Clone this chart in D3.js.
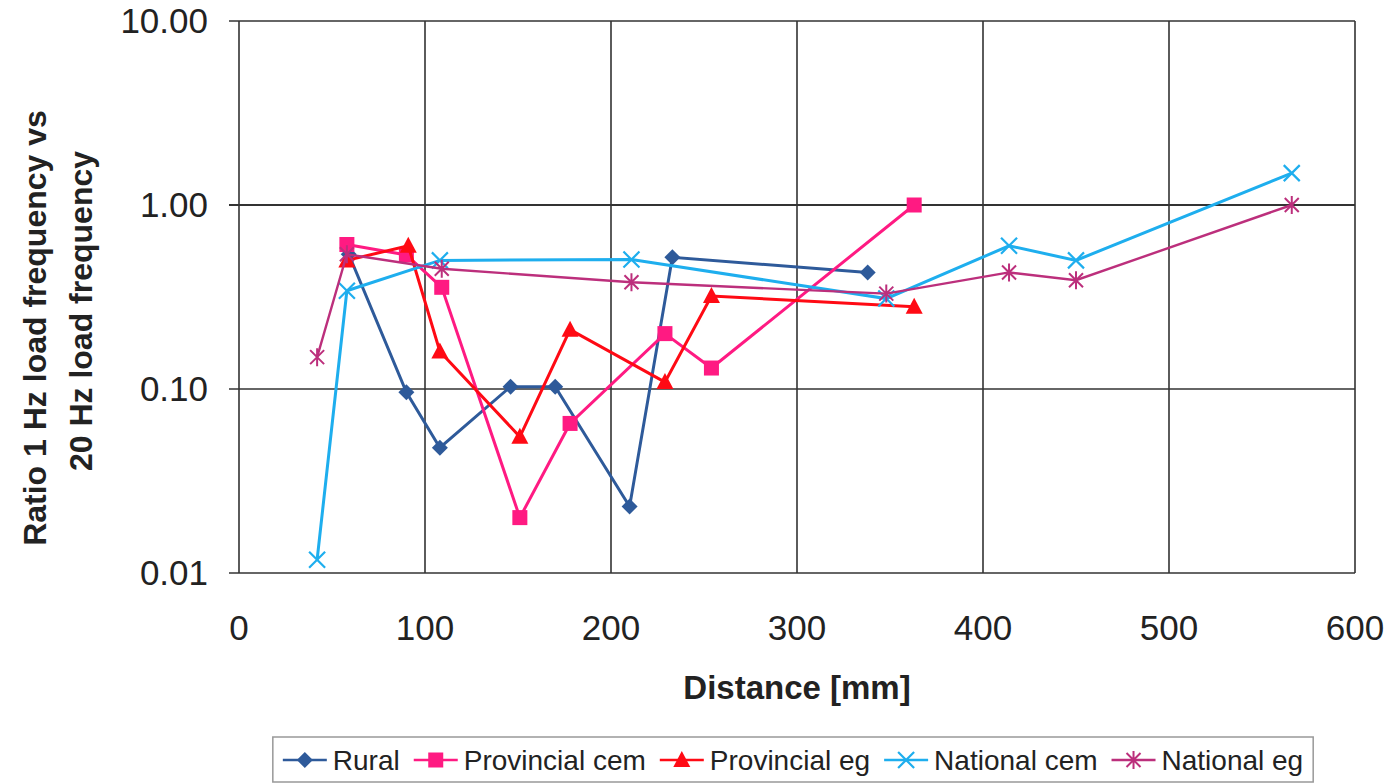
<!DOCTYPE html>
<html>
<head>
<meta charset="utf-8">
<script src="https://cdn.jsdelivr.net/npm/d3@7"></script>
<style>
  body { margin: 0; background: #fff; }
  text { font-family: "Liberation Sans", Arial, sans-serif; fill: #222; }
</style>
</head>
<body>
<script>
// tick labels
var xTicks = [0, 100, 200, 300, 400, 500, 600]
var yTicks = [0.01, 0.1, 1, 10]

// series
var seriesNames = ["Rural", "Provincial cem", "Provincial eg", "National cem", "National eg"]
var seriesColors = ["#2E5A9A", "#FF1A82", "#FF0A14", "#1EAEEE", "#BC2F7C"]
var seriesShapes = ["diamond", "square", "triangle", "cross", "asterisk"]

var ruralX = [59, 90, 108, 146, 170, 210, 233, 338]
var ruralY = [0.54, 0.096, 0.048, 0.103, 0.103, 0.023, 0.52, 0.43]

var provCemX = [58, 90, 109, 151, 178, 229, 254, 363]
var provCemY = [0.61, 0.535, 0.357, 0.020, 0.065, 0.20, 0.13, 1.00]

var provEgX = [58, 91, 108, 151, 178, 229, 254, 363]
var provEgY = [0.50, 0.60, 0.16, 0.055, 0.21, 0.109, 0.32, 0.28]

var natCemX = [42, 58, 108, 211, 348, 414, 450, 566]
var natCemY = [0.0118, 0.342, 0.50, 0.505, 0.31, 0.60, 0.50, 1.49]

var natEgX = [42, 58, 109, 211, 348, 414, 450, 566]
var natEgY = [0.149, 0.54, 0.45, 0.38, 0.33, 0.43, 0.39, 1.00]

var allX = [ruralX, provCemX, provEgX, natCemX, natEgX]
var allY = [ruralY, provCemY, provEgY, natCemY, natEgY]

var width = 1396
var height = 784
var pLeft = 239, pRight = 1355, pTop = 21, pBottom = 573

var xScale = d3.scaleLinear().domain([0, 600]).range([pLeft, pRight])
var yScale = d3.scaleLog().domain([0.01, 10]).range([pBottom, pTop])

var svg = d3.select("body")
            .append("svg")
            .attr("width", width)
            .attr("height", height)

// grid
svg.selectAll(".vgrid")
   .data(xTicks)
   .enter()
   .append("line")
   .attr("x1", function(d) { return xScale(d) })
   .attr("x2", function(d) { return xScale(d) })
   .attr("y1", pTop)
   .attr("y2", pBottom)
   .attr("stroke", "#333")
   .attr("stroke-width", 1.6)

svg.selectAll(".hgrid")
   .data(yTicks)
   .enter()
   .append("line")
   .attr("x1", pLeft - 10)
   .attr("x2", pRight)
   .attr("y1", function(d) { return yScale(d) })
   .attr("y2", function(d) { return yScale(d) })
   .attr("stroke", "#333")
   .attr("stroke-width", function(d) { return d == 1 ? 2.2 : 1.6 })

// axis labels
svg.selectAll(".ylab")
   .data(yTicks)
   .enter()
   .append("text")
   .attr("x", 208)
   .attr("y", function(d) { return yScale(d) + 12 })
   .attr("text-anchor", "end")
   .attr("font-size", 35)
   .text(function(d) { return d3.format(".2f")(d) })

svg.selectAll(".xlab")
   .data(xTicks)
   .enter()
   .append("text")
   .attr("x", function(d) { return xScale(d) })
   .attr("y", 640)
   .attr("text-anchor", "middle")
   .attr("font-size", 35)
   .text(function(d) { return d })

svg.append("text")
   .attr("x", 797)
   .attr("y", 699)
   .attr("text-anchor", "middle")
   .attr("font-size", 33)
   .attr("font-weight", "bold")
   .text("Distance [mm]")

svg.append("text")
   .attr("transform", "translate(46,328) rotate(-90)")
   .attr("text-anchor", "middle")
   .attr("font-size", 32)
   .attr("font-weight", "bold")
   .text("Ratio 1 Hz load frequency vs")

svg.append("text")
   .attr("transform", "translate(92,311) rotate(-90)")
   .attr("text-anchor", "middle")
   .attr("font-size", 32)
   .attr("font-weight", "bold")
   .text("20 Hz load frequency")

// markers
var drawMarker = function(g, shape, color) {
  if (shape == "diamond") {
    g.append("path").attr("d", "M0,-8L8,0L0,8L-8,0Z").attr("fill", color)
  } else if (shape == "square") {
    g.append("rect").attr("x", -7.5).attr("y", -7.5).attr("width", 15).attr("height", 15).attr("fill", color)
  } else if (shape == "triangle") {
    g.append("path").attr("d", "M0,-9L8.5,7L-8.5,7Z").attr("fill", color)
  } else if (shape == "cross") {
    g.append("path").attr("d", "M-8,-8L8,8M-8,8L8,-8").attr("stroke", color).attr("stroke-width", 2.2)
  } else {
    g.append("path").attr("d", "M-7,-7L7,7M-7,7L7,-7M0,-9L0,9").attr("stroke", color).attr("stroke-width", 2)
  }
}

var line = d3.line()
  .x(function(d) { return xScale(d[0]) })
  .y(function(d) { return yScale(d[1]) })

seriesNames.forEach(function(name, i) {
  var pts = d3.zip(allX[i], allY[i])
  svg.append("path")
     .datum(pts)
     .attr("d", line)
     .attr("fill", "none")
     .attr("stroke", seriesColors[i])
     .attr("stroke-width", i == 4 ? 2.4 : 3)
  pts.forEach(function(p) {
    var g = svg.append("g")
               .attr("transform", "translate(" + xScale(p[0]) + "," + yScale(p[1]) + ")")
    drawMarker(g, seriesShapes[i], seriesColors[i])
  })
})

// legend
var legend = svg.append("g")
var box = legend.append("rect")
  .attr("y", 737)
  .attr("height", 45)
  .attr("fill", "#fff")
  .attr("stroke", "#999")
  .attr("stroke-width", 1.5)

var items = []
var lx = 0
seriesNames.forEach(function(name, i) {
  var g = legend.append("g")
  g.append("line")
   .attr("x1", 0).attr("x2", 44)
   .attr("y1", 760).attr("y2", 760)
   .attr("stroke", seriesColors[i])
   .attr("stroke-width", 2.5)
  var m = g.append("g").attr("transform", "translate(22,760)")
  drawMarker(m, seriesShapes[i], seriesColors[i])
  var t = g.append("text")
   .attr("x", 50)
   .attr("y", 770)
   .attr("font-size", 28)
   .text(name)
  items.push({g: g, x: lx})
  lx += 50 + t.node().getComputedTextLength() + 14
})
var contentW = lx - 14
var startX = 793 - contentW / 2
items.forEach(function(it) {
  it.g.attr("transform", "translate(" + (it.x + startX) + ",0)")
})
box.attr("x", startX - 10).attr("width", contentW + 20)
</script>
</body>
</html>
